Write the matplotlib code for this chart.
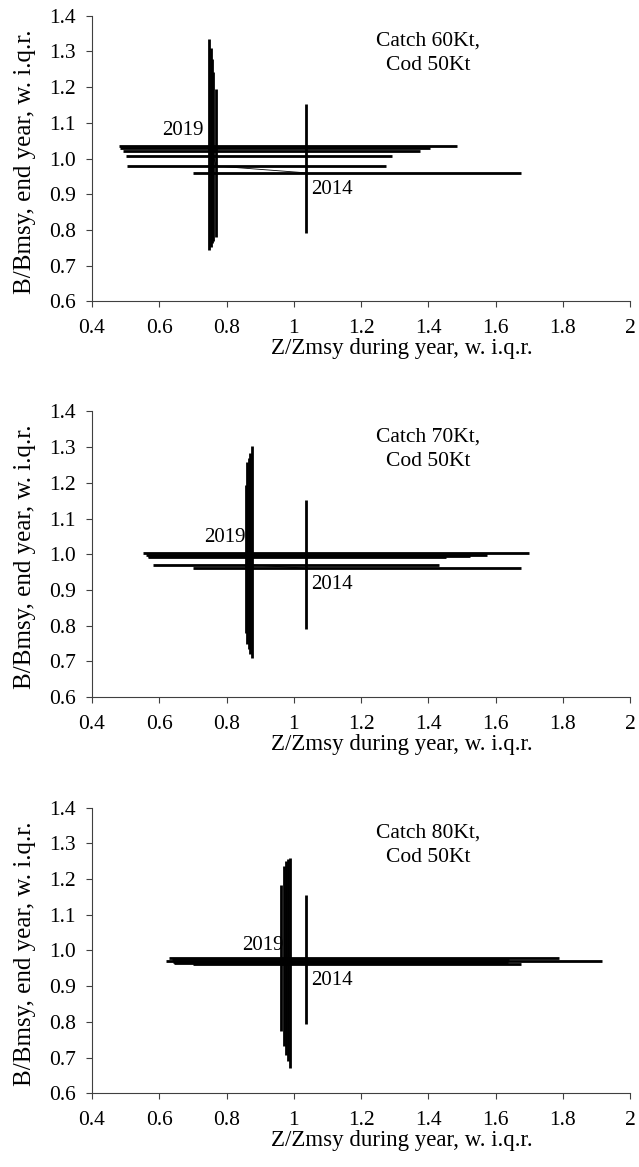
"""Z/Zmsy vs B/Bmsy trajectories 2014-2019 with inter-quartile ranges,
for three catch scenarios (cod fixed at 50Kt)."""

import matplotlib
matplotlib.use("Agg")
import matplotlib.pyplot as plt

years = [2014, 2015, 2016, 2017, 2018, 2019]

# Catch 60Kt
z60 = [1.035, 0.769, 0.761, 0.757, 0.753, 0.749]
b60 = [0.960, 0.979, 1.006, 1.021, 1.030, 1.036]
zlo60 = [0.701, 0.504, 0.501, 0.493, 0.482, 0.480]
zhi60 = [1.676, 1.274, 1.292, 1.376, 1.406, 1.485]
blo60 = [0.790, 0.780, 0.770, 0.762, 0.752, 0.743]
bhi60 = [1.152, 1.196, 1.243, 1.280, 1.310, 1.336]

# Catch 70Kt
z70 = [1.036, 0.858, 0.862, 0.866, 0.871, 0.876]
b70 = [0.961, 0.971, 0.992, 0.995, 0.999, 1.004]
zlo70 = [0.701, 0.580, 0.567, 0.565, 0.560, 0.552]
zhi70 = [1.676, 1.432, 1.454, 1.525, 1.574, 1.700]
blo70 = [0.790, 0.780, 0.750, 0.735, 0.720, 0.708]
bhi70 = [1.152, 1.194, 1.258, 1.270, 1.285, 1.302]

# Catch 80Kt
z80 = [1.036, 0.963, 0.972, 0.978, 0.983, 0.988]
b80 = [0.962, 0.965, 0.968, 0.975, 0.979, 0.970]
zlo80 = [0.701, 0.645, 0.640, 0.637, 0.630, 0.620]
zhi80 = [1.676, 1.630, 1.637, 1.640, 1.788, 1.918]
blo80 = [0.793, 0.774, 0.732, 0.708, 0.690, 0.671]
bhi80 = [1.154, 1.183, 1.236, 1.250, 1.255, 1.260]

scenarios = [
    ("Catch 60Kt,\nCod 50Kt", z60, b60, zlo60, zhi60, blo60, bhi60),
    ("Catch 70Kt,\nCod 50Kt", z70, b70, zlo70, zhi70, blo70, bhi70),
    ("Catch 80Kt,\nCod 50Kt", z80, b80, zlo80, zhi80, blo80, bhi80),
]

xticks = [0.4, 0.6, 0.8, 1.0, 1.2, 1.4, 1.6, 1.8, 2.0]
xticklabels = ["0.4", "0.6", "0.8", "1", "1.2", "1.4", "1.6", "1.8", "2"]
yticks = [0.6, 0.7, 0.8, 0.9, 1.0, 1.1, 1.2, 1.3, 1.4]

plt.rcParams["font.family"] = ["Liberation Serif", "DejaVu Serif"]
FS = 15
AXC = "#404040"

fig = plt.figure(figsize=(6.39, 11.67), dpi=100)
bottoms = [0.7418, 0.4027, 0.0632]

for (title, z, b, zlo, zhi, blo, bhi), bot in zip(scenarios, bottoms):
    ax = fig.add_axes([0.144, bot, 0.842, 0.2447])
    # trajectory of the medians, then the i.q.r. crosses
    ax.plot(z, b, color="k", lw=0.6, zorder=2)
    ax.hlines(b, zlo, zhi, color="k", lw=2.0, zorder=3)
    ax.vlines(z, blo, bhi, color="k", lw=2.0, zorder=3)

    ax.annotate(str(years[0]), (z[0], b[0]), xytext=(4, -12),
                textcoords="offset points", ha="left", va="center", fontsize=FS)
    ax.annotate(str(years[-1]), (z[-1], b[-1]), xytext=(-4.5, 11),
                textcoords="offset points", ha="right", va="center", fontsize=FS)
    ax.text(1.40, 1.295, title, ha="center", va="center", fontsize=15.5,
            linespacing=1.4)

    ax.set_xlim(0.4, 2.0)
    ax.set_ylim(0.6, 1.4)
    ax.set_xticks(xticks)
    ax.set_xticklabels(xticklabels)
    ax.set_yticks(yticks)
    ax.set_yticklabels([f"{v:.1f}" for v in yticks])
    ax.tick_params(direction="out", length=4.5, width=0.8, color=AXC,
                   labelsize=15.5, pad=7)
    ax.tick_params(axis="x", pad=8.5)
    for side in ("top", "right"):
        ax.spines[side].set_visible(False)
    for side in ("left", "bottom"):
        ax.spines[side].set_color(AXC)
        ax.spines[side].set_linewidth(0.8)

    ax.set_xlabel("Z/Zmsy during year, w. i.q.r.", fontsize=16.5)
    ax.set_ylabel("B/Bmsy, end year, w. i.q.r.", fontsize=18)
    ax.xaxis.set_label_coords(0.576, -0.13)
    ax.yaxis.set_label_coords(-0.104, 0.49)

fig.savefig("out.png", dpi=100)
